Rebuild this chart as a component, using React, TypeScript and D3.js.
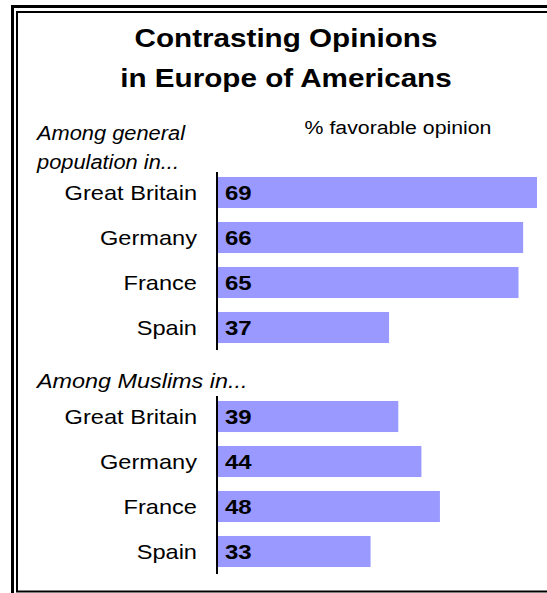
import React from "react";
import * as d3 from "d3";

const countries = ["Great Britain", "Germany", "France", "Spain"];
const generalValues = [69, 66, 65, 37];
const muslimValues = [39, 44, 48, 33];
const titleLines = ["Contrasting Opinions", "in Europe of Americans"];
const subtitle = "% favorable opinion";
const group1Label = ["Among general", "population in..."];
const group2Label = ["Among Muslims in..."];

const W = 547;
const H = 593;
const BAR = "#9999ff";
const FONT = "Liberation Sans, Arial, sans-serif";

type TProps = {
  x: number;
  y: number;
  sx: number;
  size: number;
  anchor?: "start" | "middle" | "end";
  bold?: boolean;
  italic?: boolean;
  dy?: string;
  children: React.ReactNode;
};

function T({ x, y, sx, size, anchor = "start", bold, italic, dy, children }: TProps) {
  return (
    <text
      transform={`translate(${x},${y}) scale(${sx},1)`}
      textAnchor={anchor}
      fontSize={size}
      fontWeight={bold ? "bold" : "normal"}
      fontStyle={italic ? "italic" : "normal"}
      dy={dy}
      fill="#000"
    >
      {children}
    </text>
  );
}

export default function App() {
  const x = d3.scaleLinear().domain([0, 69]).range([218, 537]);
  const y1 = d3.scaleBand<string>().domain(countries).range([170, 350]).paddingInner(0.31).paddingOuter(0.155);
  const y2 = d3.scaleBand<string>().domain(countries).range([394, 574]).paddingInner(0.31).paddingOuter(0.155);

  const groups = [
    { y: y1, values: generalValues, axis: [172, 350] },
    { y: y2, values: muslimValues, axis: [396, 574] },
  ];

  return (
    <svg width={W} height={H} style={{ position: "absolute", left: 0, top: 0 }} fontFamily={FONT}>
      <rect x={0} y={0} width={W} height={H} fill="#fff" />
      {/* frame */}
      <line x1={12.5} y1={5} x2={12.5} y2={H} stroke="#000" strokeWidth={3} />
      <line x1={11} y1={6.5} x2={W} y2={6.5} stroke="#000" strokeWidth={3} />
      <line x1={17} y1={11} x2={17} y2={592} stroke="#000" strokeWidth={2} />
      <line x1={16} y1={12} x2={W} y2={12} stroke="#000" strokeWidth={2} />
      <line x1={16} y1={591.5} x2={W} y2={591.5} stroke="#000" strokeWidth={2} />

      {titleLines.map((t, i) => (
        <T key={t} x={286} y={47 + i * 40} sx={1.14} size={26} anchor="middle" bold>
          {t}
        </T>
      ))}
      <T x={398} y={134} sx={1.12} size={19} anchor="middle">{subtitle}</T>
      {group1Label.map((t, i) => (
        <T key={t} x={37} y={140 + i * 29} sx={1.12} size={19.5} italic>{t}</T>
      ))}
      {group2Label.map((t) => (
        <T key={t} x={37} y={388} sx={1.2} size={19.5} italic>{t}</T>
      ))}

      {groups.map((g, gi) => (
        <g key={gi}>
          {countries.map((c, i) => {
            const yy = g.y(c) as number;
            const bw = g.y.bandwidth();
            return (
              <g key={c}>
                <rect x={x(0)} y={yy} width={x(g.values[i]) - x(0)} height={bw} fill={BAR} />
                <T x={197} y={yy + bw / 2} dy="0.35em" sx={1.18} size={20} anchor="end">{c}</T>
                <T x={225} y={yy + bw / 2} dy="0.35em" sx={1.2} size={20} bold>{g.values[i]}</T>
              </g>
            );
          })}
          <line x1={217} x2={217} y1={g.axis[0]} y2={g.axis[1]} stroke="#000" strokeWidth={2} />
        </g>
      ))}
    </svg>
  );
}
